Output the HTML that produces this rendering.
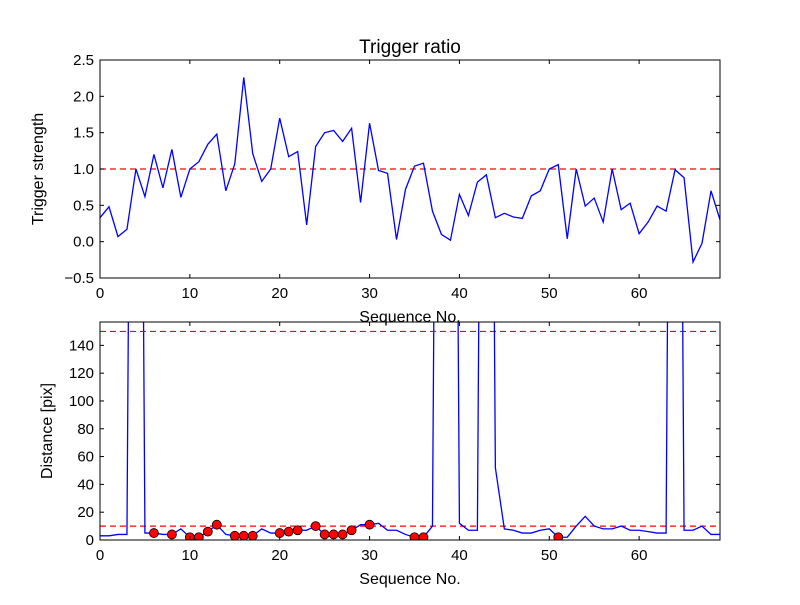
<!DOCTYPE html>
<html><head><meta charset="utf-8"><style>
body{margin:0;background:#fff;}
svg text{font-family:"Liberation Sans","DejaVu Sans",sans-serif;fill:#000;}
</style></head><body>
<svg id="chart" width="800" height="600" xmlns="http://www.w3.org/2000/svg">
<rect width="800" height="600" fill="#fff"/>
</svg>
<script>
const seqTop = [0.33,0.48,0.07,0.17,1.0,0.62,1.2,0.74,1.27,0.61,1.0,1.1,1.34,1.48,0.7,1.07,2.26,1.21,0.83,1.0,1.7,1.17,1.24,0.23,1.31,1.5,1.53,1.38,1.56,0.54,1.63,0.98,0.94,0.03,0.72,1.04,1.08,0.42,0.1,0.02,0.65,0.36,0.82,0.92,0.33,0.39,0.34,0.32,0.63,0.7,1.0,1.06,0.04,1.0,0.49,0.6,0.27,1.0,0.44,0.53,0.11,0.27,0.49,0.42,0.99,0.88,-0.28,-0.02,0.7,0.3];
const distance = [3,3,4,4,1000,5,5,4,4,8,2,2,6,11,4,3,3,3,8,5,5,6,7,7,10,4,4,4,7,11,11,12,7,7,4,2,2,10,1000,1000,12,7,7,1000,52,8,7,5,5,7,8,2,2,10,17,10,8,8,10,7,7,6,5,5,1000,7,7,10,4,4];
const markerIdx = [6,8,10,11,12,13,15,16,17,20,21,22,24,25,26,27,28,30,35,36,51];
const topThreshold = 1.0;
const botThresholds = [10,150];
const xTicks = [0,10,20,30,40,50,60];
const yTicksTop = [-0.5,0.0,0.5,1.0,1.5,2.0,2.5];
const yTicksBot = [0,20,40,60,80,100,120,140];

const NS="http://www.w3.org/2000/svg";
const svg=document.getElementById('chart');
function mk(tag,attrs,parent){const e=document.createElementNS(NS,tag);for(const k in attrs)e.setAttribute(k,attrs[k]);(parent||svg).appendChild(e);return e;}
const L=100,R=720;
const xs=v=>L+(v-0)/(69-0)*(R-L);
function panel(name,T,B,ymin,ymax,ticks,fmt,vals,thr,markers,ylab,clipId){
  const ys=v=>B-(v-ymin)/(ymax-ymin)*(B-T);
  const g=mk('g',{});
  
  
  const cp=mk('clipPath',{id:clipId},g);mk('rect',{x:L,y:T,width:R-L,height:B-T},cp);
  thr.forEach(t=>{const l=mk('line',{x1:L,x2:R,y1:ys(t),y2:ys(t),stroke:'#ff0000','stroke-width':1.2,'stroke-dasharray':'6,4','clip-path':`url(#${clipId})`},g);
    
    });
  const p=mk('polyline',{points:vals.map((v,i)=>xs(i)+','+ys(v)).join(' '),fill:'none',stroke:'#0000ff','stroke-width':1.3,'clip-path':`url(#${clipId})`},g);
  
  
  markers.forEach(i=>{const c=mk('circle',{cx:xs(i),cy:ys(vals[i]),r:4.5,fill:'#ff0000',stroke:'#000','stroke-width':0.8,'clip-path':`url(#${clipId})`},g);
    
    });
  const fr=mk('rect',{x:L,y:T,width:R-L,height:B-T,fill:'none',stroke:'#000','stroke-width':1},g);
  
  
  xTicks.forEach(t=>{const x=xs(t);
    mk('line',{x1:x,x2:x,y1:B,y2:B-4,stroke:'#000'},g);mk('line',{x1:x,x2:x,y1:T,y2:T+4,stroke:'#000'},g);
    const tx=mk('text',{x:x,y:B+20,'font-size':15,'text-anchor':'middle'},g);tx.textContent=t;
    
    });
  ticks.forEach(t=>{const y=ys(t);
    mk('line',{x1:L,x2:L+4,y1:y,y2:y,stroke:'#000'},g);mk('line',{x1:R,x2:R-4,y1:y,y2:y,stroke:'#000'},g);
    const tx=mk('text',{x:L-6,y:y+5,'font-size':15,'text-anchor':'end'},g);tx.textContent=fmt(t);
    
    });
  const xl=mk('text',{x:(L+R)/2,y:B+44,'font-size':16,'text-anchor':'middle'},g);xl.textContent='Sequence No.';
  
  
  const cy=(T+B)/2;
  const yl=mk('text',{x:0,y:0,'font-size':16,'text-anchor':'middle',transform:`translate(${name==='top'?43:52},${cy}) rotate(-90)`},g);yl.textContent=ylab;
  
  
}
panel('top',60,278,-0.5,2.5,yTicksTop,v=>v.toFixed(1).replace('-','\u2212'),seqTop,[topThreshold],[],'Trigger strength','c1');
panel('bottom',322,540,0,156.8,yTicksBot,v=>String(v),distance,botThresholds,markerIdx,'Distance [pix]','c2');
const title=mk('text',{x:410,y:53,'font-size':19,'text-anchor':'middle'});title.textContent='Trigger ratio';


</script>
</body></html>
